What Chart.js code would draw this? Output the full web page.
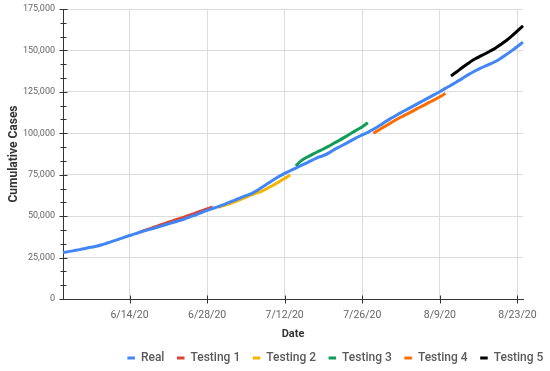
<!DOCTYPE html>
<html>
<head>
<meta charset="utf-8">
<script src="https://cdn.jsdelivr.net/npm/chart.js@4"></script>
<style>
  body { margin: 0; background: #fff; }
  #wrap { width: 550px; height: 371px; }
</style>
</head>
<body>
<div id="wrap"><canvas id="grafica" width="550" height="371"></canvas></div>
<script>
// fechas diarias 6/2/20 .. 8/24/20
const startDate = new Date(2020, 5, 2);
const dates = [];
for (let i = 0; i < 84; i++) {
    const d = new Date(startDate.getTime() + i * 86400000);
    dates.push((d.getMonth() + 1) + '/' + d.getDate() + '/20');
}
const tickDates = ['6/14/20', '6/28/20', '7/12/20', '7/26/20', '8/9/20', '8/23/20'];

const seriesNames = ['Real', 'Testing 1', 'Testing 2', 'Testing 3', 'Testing 4', 'Testing 5'];

const real = [
    28000, 28600, 29200, 29800, 30500, 31200, 31800, 32700, 33800, 34900,
    36000, 37200, 38300, 39300, 40400, 41400, 42300, 43300, 44300, 45300,
    46300, 47300, 48400, 49600, 50800, 52100, 53500, 54600, 55700, 57000,
    58300, 59700, 61000, 62400, 63600, 65500, 67600, 69800, 72000, 74000,
    75800, 77400, 79000, 80600, 82200, 83800, 85400, 86600, 88200, 90300,
    92000, 93800, 95600, 97400, 99000, 100600, 102400, 104400, 106600, 108700,
    110600, 112500, 114300, 116100, 117900, 119700, 121500, 123300, 125100, 127100,
    129000, 131000, 133000, 135100, 137000, 138700, 140300, 141800, 143300, 145300,
    147500, 149900, 152400, 155000
];

// cada prueba: [primer dia, valores]
const testing1 = [14, [40600, 41700, 42800, 44000, 45200, 46300, 47400, 48500, 49600, 50800, 52000, 53200, 54300, 55500]];
const testing2 = [28, [55300, 56400, 57500, 58700, 60000, 61400, 62800, 64000, 65300, 67000, 68800, 70800, 72800, 74800]];
const testing3 = [42, [80300, 83500, 85500, 87300, 89000, 90500, 92300, 94200, 96000, 98000, 100000, 102000, 104000, 106400]];
const testing4 = [56, [100000, 102000, 104000, 106000, 108000, 109800, 111500, 113200, 115000, 116700, 118500, 120200, 122000, 124100]];
const testing5 = [70, [134600, 137000, 139500, 141900, 144200, 146000, 147700, 149500, 151300, 153600, 156000, 158800, 161800, 164900]];

const colors = ['#4285F4', '#DB4437', '#F4B400', '#0F9D58', '#FF6D00', '#000000'];

function padSeries(t) {
    const out = new Array(dates.length).fill(null);
    t[1].forEach((v, i) => { out[t[0] + i] = v; });
    return out;
}

const allSeries = [real, padSeries(testing1), padSeries(testing2), padSeries(testing3), padSeries(testing4), padSeries(testing5)];

// marcas del eje que cruzan la linea del eje + mover la leyenda
const axisTicks = {
    id: 'axisTicks',
    afterLayout(chart) {
        const lg = chart.legend;
        if (!lg) return;
        lg.left += 6; lg.right += 6;
        lg.top += 3; lg.bottom += 3;
    },
    afterDraw(chart) {
        const { ctx, scales: { x, y } } = chart;
        ctx.save();
        ctx.strokeStyle = '#333';
        ctx.lineWidth = 1;
        ctx.beginPath();
        const x0 = Math.round(x.left) + 0.5;
        for (let i = 0; i <= 21; i++) {
            const py = Math.round(y.getPixelForValue(i * 25000 / 3)) + 0.5;
            const len = i % 3 === 0 ? 4 : 3;
            ctx.moveTo(x0 - len, py);
            ctx.lineTo(x0 + len, py);
        }
        const y0 = Math.round(y.bottom) + 0.5;
        tickDates.forEach(t => {
            const px = Math.round(x.getPixelForValue(dates.indexOf(t))) + 0.5;
            ctx.moveTo(px, y0 - 4);
            ctx.lineTo(px, y0 + 4);
        });
        ctx.stroke();
        ctx.restore();
    }
};

new Chart(document.getElementById('grafica').getContext('2d'), {
    type: 'line',
    data: {
        labels: dates,
        datasets: seriesNames.map((name, i) => ({
            label: name,
            data: allSeries[i],
            borderColor: colors[i],
            backgroundColor: colors[i],
            borderWidth: 3,
            pointRadius: 0,
            tension: 0.3,
            fill: false
        }))
    },
    options: {
        responsive: false,
        animation: false,
        layout: { padding: 0 },
        plugins: {
            tooltip: { enabled: false },
            legend: {
                position: 'bottom',
                align: 'end',
                labels: {
                    usePointStyle: true,
                    pointStyle: 'line',
                    pointStyleWidth: 7.5,
                    padding: 12.6,
                    color: '#5a5a5a',
                    font: { family: 'Roboto', size: 12, weight: '500' }
                }
            }
        },
        scales: {
            x: {
                afterFit: s => { s.height = 37.4; s.paddingRight = 27; },
                grid: { color: '#dcdcdc', drawTicks: false },
                border: { color: '#333' },
                ticks: {
                    autoSkip: false,
                    maxRotation: 0,
                    padding: 10,
                    color: '#666',
                    font: { family: 'Roboto', size: 10.5 },
                    callback: function (val) {
                        const l = dates[val];
                        return tickDates.includes(l) ? l : null;
                    }
                },
                title: {
                    display: true,
                    text: 'Date',
                    color: '#333',
                    font: { family: 'Roboto', size: 11, weight: 'bold' },
                    padding: { top: 0, bottom: -4.2 }
                }
            },
            y: {
                min: 0,
                max: 175000,
                afterFit: s => { s.width = 63; s.paddingTop = 9; s.paddingBottom = 0; },
                grid: { color: '#dcdcdc', drawTicks: false },
                border: { color: '#333' },
                ticks: {
                    stepSize: 25000,
                    padding: 8,
                    color: '#666',
                    font: { family: 'Roboto', size: 9 },
                    callback: v => v.toLocaleString('en-US')
                },
                title: {
                    display: true,
                    text: 'Cumulative Cases',
                    color: '#333',
                    font: { family: 'Roboto', size: 12, weight: 'bold' },
                    padding: { top: 7, bottom: 0 }
                }
            }
        }
    },
    plugins: [axisTicks]
});
</script>
</body>
</html>
